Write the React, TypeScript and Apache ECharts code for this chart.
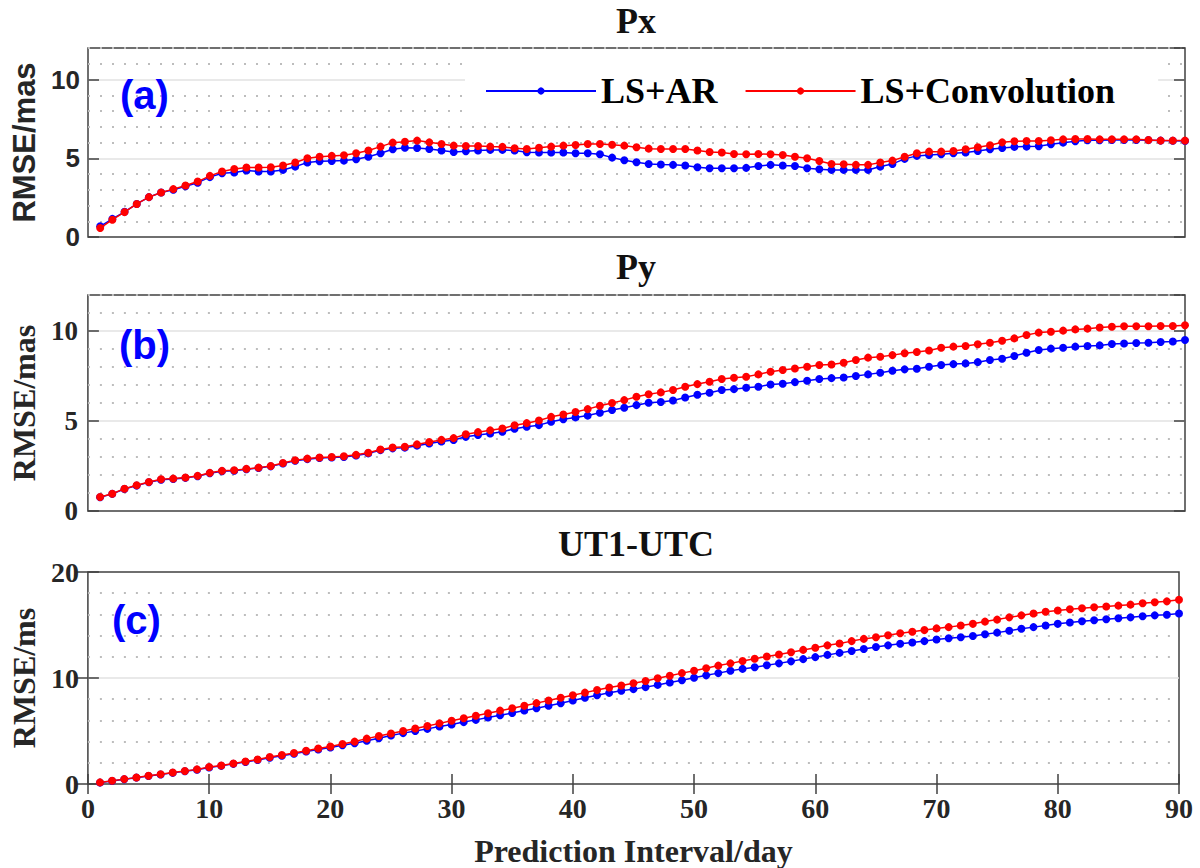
import React, { useEffect, useRef } from "react";
import * as echarts from "echarts";

const DAYS = Array.from({ length: 90 }, (_, i) => i + 1);

const PX_AR = [0.68,1.15,1.6,2.1,2.53,2.83,3.0,3.22,3.45,3.8,4.05,4.09,4.22,4.16,4.16,4.26,4.47,4.73,4.81,4.83,4.85,4.94,5.1,5.32,5.57,5.67,5.65,5.59,5.49,5.4,5.44,5.49,5.53,5.53,5.49,5.38,5.36,5.36,5.36,5.32,5.32,5.25,5.04,4.87,4.75,4.64,4.6,4.58,4.54,4.43,4.37,4.37,4.37,4.39,4.51,4.58,4.54,4.51,4.37,4.3,4.26,4.26,4.26,4.26,4.47,4.64,4.96,5.15,5.21,5.25,5.32,5.36,5.46,5.57,5.65,5.72,5.74,5.76,5.89,5.99,6.08,6.14,6.14,6.16,6.16,6.16,6.15,6.12,6.11,6.1];
const PX_CONV = [0.57,1.1,1.58,2.1,2.53,2.83,3.04,3.27,3.52,3.88,4.16,4.32,4.41,4.41,4.43,4.54,4.73,5.0,5.1,5.15,5.19,5.32,5.49,5.74,5.99,6.05,6.12,6.01,5.9,5.8,5.78,5.78,5.74,5.72,5.63,5.59,5.67,5.74,5.8,5.84,5.91,5.91,5.86,5.8,5.7,5.61,5.59,5.59,5.59,5.49,5.4,5.36,5.27,5.25,5.27,5.25,5.21,5.1,5.0,4.83,4.64,4.62,4.58,4.58,4.73,4.85,5.1,5.32,5.42,5.42,5.46,5.57,5.7,5.82,6.01,6.08,6.1,6.1,6.14,6.2,6.22,6.22,6.2,6.2,6.2,6.2,6.16,6.12,6.12,6.12];

const PY_AR = [0.76,0.95,1.22,1.41,1.6,1.74,1.78,1.84,1.93,2.1,2.21,2.24,2.32,2.39,2.48,2.64,2.79,2.88,2.94,2.97,3.0,3.08,3.2,3.38,3.48,3.52,3.63,3.75,3.86,3.94,4.12,4.22,4.31,4.4,4.57,4.68,4.77,4.96,5.1,5.2,5.3,5.46,5.61,5.74,5.88,6.01,6.06,6.14,6.31,6.46,6.57,6.72,6.77,6.85,6.9,7.03,7.07,7.16,7.24,7.33,7.38,7.42,7.5,7.59,7.68,7.79,7.87,7.9,8.01,8.11,8.16,8.2,8.27,8.39,8.46,8.61,8.79,8.94,9.02,9.07,9.13,9.17,9.2,9.28,9.31,9.33,9.35,9.39,9.42,9.5];
const PY_CONV = [0.78,0.96,1.24,1.43,1.61,1.76,1.8,1.86,1.95,2.12,2.23,2.26,2.34,2.41,2.5,2.67,2.82,2.91,2.97,3.0,3.04,3.12,3.24,3.42,3.53,3.57,3.7,3.83,3.95,4.05,4.26,4.38,4.48,4.58,4.76,4.88,5.03,5.23,5.36,5.5,5.66,5.85,6.0,6.16,6.35,6.49,6.59,6.72,6.9,7.05,7.18,7.33,7.4,7.46,7.59,7.74,7.83,7.92,8.01,8.11,8.14,8.24,8.39,8.52,8.57,8.66,8.76,8.83,8.92,9.07,9.13,9.17,9.26,9.35,9.46,9.59,9.78,9.91,9.96,10.02,10.09,10.13,10.19,10.24,10.26,10.26,10.26,10.28,10.28,10.32];

const UT_AR = [0.13,0.29,0.44,0.6,0.75,0.9,1.05,1.2,1.35,1.56,1.71,1.9,2.08,2.26,2.48,2.67,2.85,3.06,3.26,3.45,3.65,3.85,4.08,4.32,4.57,4.8,5.0,5.2,5.42,5.62,5.84,6.05,6.27,6.48,6.7,6.93,7.15,7.38,7.62,7.88,8.13,8.38,8.6,8.8,8.95,9.14,9.35,9.57,9.78,10.03,10.25,10.46,10.68,10.86,11.02,11.2,11.38,11.57,11.78,11.97,12.18,12.37,12.55,12.74,12.92,13.08,13.23,13.35,13.48,13.63,13.75,13.85,13.97,14.12,14.28,14.46,14.65,14.8,14.95,15.11,15.23,15.35,15.45,15.54,15.63,15.72,15.82,15.91,15.97,16.09];
const UT_CONV = [0.15,0.31,0.46,0.62,0.77,0.92,1.08,1.23,1.38,1.6,1.75,1.94,2.12,2.31,2.55,2.74,2.92,3.14,3.35,3.54,3.77,4.0,4.28,4.52,4.76,5.0,5.23,5.47,5.72,5.97,6.2,6.44,6.68,6.92,7.15,7.38,7.63,7.88,8.13,8.38,8.62,8.86,9.1,9.29,9.51,9.72,9.97,10.22,10.46,10.68,10.92,11.17,11.38,11.6,11.82,12.03,12.22,12.43,12.65,12.86,13.08,13.26,13.48,13.69,13.85,14.03,14.22,14.37,14.52,14.68,14.8,14.95,15.11,15.32,15.51,15.72,15.91,16.09,16.25,16.37,16.49,16.58,16.68,16.74,16.83,16.92,17.05,17.14,17.23,17.38];

const TITLES = ["Px", "Py", "UT1-UTC"];
const PANEL_TAGS = ["(a)", "(b)", "(c)"];
const Y_NAMES = ["RMSE/mas", "RMSE/mas", "RMSE/ms"];
const Y_MAX = [12, 12, 20];
const Y_MAJOR = [5, 5, 10];
const Y_MINOR = [1, 1, 2];
const X_NAME = "Prediction Interval/day";
const SERIES_NAMES = ["LS+AR", "LS+Convolution"];
const PANEL_DATA = [
  [PX_AR, PX_CONV],
  [PY_AR, PY_CONV],
  [UT_AR, UT_CONV],
];

const SERIF = '"Liberation Serif", "Times New Roman", serif';
const SANS = '"Liberation Sans", Arial, sans-serif';
const AXIS_COLOR = "#404040";
const TEXT_COLOR = "#262626";
const COLORS = ["#0000ff", "#ff0000"];

export default function App() {
  const ref = useRef<HTMLDivElement>(null);
  useEffect(() => {
    if (!ref.current) return;
    const chart = echarts.init(ref.current, undefined, { renderer: "svg" });

    const grids = [
      { left: 88, top: 48, width: 1097, height: 189 },
      { left: 86, top: 295, width: 1099, height: 216 },
      { left: 80, top: 572, width: 1099, height: 216 },
    ].map((g) => ({
      ...g,
      show: true,
      borderColor: AXIS_COLOR,
      borderWidth: 1.5,
      backgroundColor: "transparent",
    }));

    const tickFonts = [
      { fontFamily: SANS, fontSize: 26 },
      { fontFamily: SERIF, fontSize: 27 },
      { fontFamily: SERIF, fontSize: 28 },
    ];
    const nameFonts = [
      { fontFamily: SANS, fontSize: 31 },
      { fontFamily: SERIF, fontSize: 32 },
      { fontFamily: SERIF, fontSize: 32 },
    ];
    const nameGaps = [45, 44, 41];
    const labelMargins = [8, 10, 9];

    const xAxis: any[] = [];
    const yAxis: any[] = [];
    const series: any[] = [];

    for (let p = 0; p < 3; p++) {
      const isBottom = p === 2;
      xAxis.push({
        type: "value",
        gridIndex: p,
        min: 0,
        max: 90,
        interval: 10,
        position: "bottom",
        axisLine: { show: false },
        axisTick: {
          show: isBottom,
          inside: true,
          length: 10,
          lineStyle: { color: AXIS_COLOR, width: 1.5 },
        },
        axisLabel: {
          show: isBottom,
          margin: 10,
          fontFamily: SERIF,
          fontWeight: "bold",
          fontSize: 28,
          lineHeight: 28,
          color: TEXT_COLOR,
        },
        splitLine: { show: false },
        name: isBottom ? X_NAME : "",
        nameLocation: "middle",
        nameGap: 51,
        nameTextStyle: {
          fontFamily: SERIF,
          fontWeight: "bold",
          fontSize: 32,
          lineHeight: 32,
          color: TEXT_COLOR,
        },
      });
      if (isBottom) {
        xAxis.push({
          type: "value",
          gridIndex: p,
          min: 0,
          max: 90,
          interval: 10,
          position: "top",
          axisLine: { show: false },
          axisTick: {
            show: true,
            inside: true,
            length: 10,
            lineStyle: { color: AXIS_COLOR, width: 1.5 },
          },
          axisLabel: { show: false },
          splitLine: { show: false },
        });
      }
      const xIndex = p === 0 ? 0 : p === 1 ? 1 : 2;

      const yMain = yAxis.length;
      yAxis.push({
        type: "value",
        gridIndex: p,
        min: 0,
        max: Y_MAX[p],
        interval: Y_MAJOR[p],
        position: "left",
        axisLine: { show: false },
        axisTick: {
          show: true,
          inside: true,
          length: 11,
          lineStyle: { color: AXIS_COLOR, width: 1.5 },
        },
        axisLabel: {
          show: true,
          margin: labelMargins[p],
          showMaxLabel: Y_MAX[p] % Y_MAJOR[p] === 0,
          fontWeight: "bold",
          color: TEXT_COLOR,
          ...tickFonts[p],
        },
        splitLine: {
          show: true,
          showMinLine: false,
          showMaxLine: false,
          lineStyle: { color: "#e2e2e2", width: 1.5, type: "solid" },
        },
        name: Y_NAMES[p],
        nameLocation: "middle",
        nameRotate: 90,
        nameGap: nameGaps[p],
        nameTextStyle: { fontWeight: "bold", color: TEXT_COLOR, ...nameFonts[p] },
      });
      yAxis.push({
        type: "value",
        gridIndex: p,
        min: 0,
        max: Y_MAX[p],
        interval: Y_MAJOR[p],
        position: "right",
        axisLine: { show: false },
        axisTick: {
          show: true,
          inside: true,
          length: 11,
          lineStyle: { color: AXIS_COLOR, width: 1.5 },
        },
        axisLabel: { show: false },
        splitLine: { show: false },
      });
      const perMajor = Y_MAJOR[p] / Y_MINOR[p];
      const dotColors = Array.from({ length: perMajor }, (_, i) =>
        i === 0 ? "rgba(0,0,0,0)" : "#bdbdbd"
      );
      yAxis.push({
        type: "value",
        gridIndex: p,
        min: 0,
        max: Y_MAX[p],
        interval: Y_MINOR[p],
        position: "left",
        show: true,
        axisLine: { show: false },
        axisTick: { show: false },
        axisLabel: { show: false },
        splitLine: {
          show: true,
          lineStyle: { color: dotColors, width: 2, type: [2, 10] },
        },
      });

      PANEL_DATA[p].forEach((vals, s) => {
        series.push({
          type: "line",
          name: SERIES_NAMES[s],
          xAxisIndex: xIndex,
          yAxisIndex: yMain,
          data: DAYS.map((d, i) => [d, vals[i]]),
          symbol: "circle",
          symbolSize: 8,
          showSymbol: true,
          lineStyle: { color: COLORS[s], width: 1.5 },
          itemStyle: { color: COLORS[s] },
          z: 3 + s,
        });
      });
    }

    const titleY = [21, 267, 544];
    const tagY = [95, 345, 620];
    const tagX = [120, 119, 112];
    const graphic: any[] = [];
    for (let p = 0; p < 3; p++) {
      graphic.push({
        type: "text",
        x: 636,
        y: titleY[p],
        style: {
          text: TITLES[p],
          fontFamily: SERIF,
          fontWeight: "bold",
          fontSize: 36,
          fill: "#111",
          align: "center",
          verticalAlign: "middle",
        },
      });
      graphic.push({
        type: "text",
        x: tagX[p],
        y: tagY[p],
        z: 10,
        style: {
          text: PANEL_TAGS[p],
          fontFamily: SANS,
          fontWeight: "bold",
          fontSize: 40,
          fill: "#0000ff",
          align: "left",
          verticalAlign: "middle",
        },
      });
    }

    chart.setOption({
      animation: false,
      backgroundColor: "#fff",
      grid: grids,
      xAxis,
      yAxis,
      series,
      legend: {
        show: true,
        data: SERIES_NAMES,
        left: 465,
        top: 58,
        padding: [15, 43, 13, 20],
        backgroundColor: "#fff",
        itemWidth: 110,
        itemHeight: 9,
        itemGap: 27,
        textStyle: {
          fontFamily: SERIF,
          fontWeight: "bold",
          fontSize: 36,
          color: "#000",
        },
        z: 5,
      },
      graphic,
    });

    return () => chart.dispose();
  }, []);

  return (
    <div
      ref={ref}
      style={{ position: "absolute", left: 0, top: 0, width: 1200, height: 868 }}
    />
  );
}
